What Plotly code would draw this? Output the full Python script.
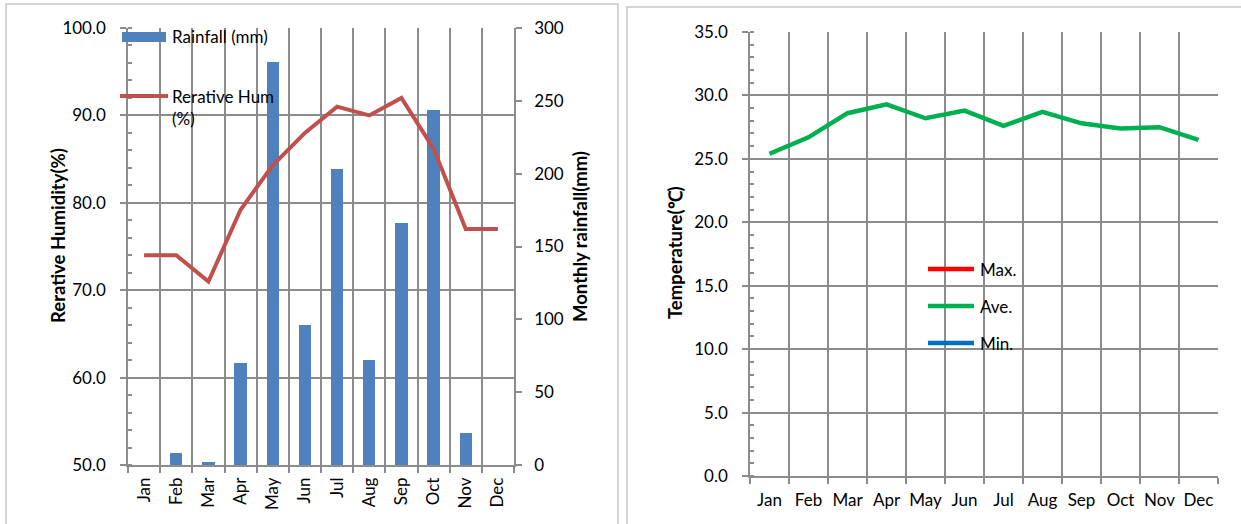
import plotly.graph_objects as go

W, H = 1241, 524

months = ["Jan", "Feb", "Mar", "Apr", "May", "Jun",
          "Jul", "Aug", "Sep", "Oct", "Nov", "Dec"]

# Monthly rainfall (mm) and relative humidity (%)
rainfall_mm = [0, 8, 2, 70, 277, 96, 203, 72, 166, 244, 22, 0]
humidity_pct = [74.0, 74.0, 71.0, 79.2, 84.3, 88.0, 91.0, 90.0, 92.0, 86.2, 77.0, 77.0]

# Monthly average temperature (°C)
temp_ave = [25.4, 26.7, 28.6, 29.3, 28.2, 28.8, 27.6, 28.7, 27.8, 27.4, 27.5, 26.5]

temp_series = ["Max.", "Ave.", "Min."]
temp_colors = ["#FF0000", "#00B050", "#0070C0"]

BAR_BLUE = "#4F81BD"
HUM_RED = "#C0504D"
GRID = "#8C8C8C"
FONT = "Lato"


def px(x):
    return x / W


def py(y):
    return 1 - y / H


fig = go.Figure()

fig.add_trace(go.Bar(
    x=months, y=rainfall_mm, name="Rainfall (mm)",
    marker=dict(color=BAR_BLUE, line=dict(width=0)),
    width=0.38, xaxis="x", yaxis="y", showlegend=False,
))
fig.add_trace(go.Scatter(
    x=months, y=humidity_pct, name="Rerative Hum (%)", mode="lines",
    line=dict(color=HUM_RED, width=4), xaxis="x", yaxis="y2", showlegend=False,
))
fig.add_trace(go.Scatter(
    x=months, y=temp_ave, name="Ave.", mode="lines",
    line=dict(color=temp_colors[1], width=4.5), xaxis="x2", yaxis="y3",
    showlegend=False,
))

tick_font = dict(family=FONT, size=17, color="#000000")
line_common = dict(linecolor=GRID, linewidth=1.5, tickcolor=GRID, tickwidth=1.5,
                   tickfont=tick_font, zeroline=False, fixedrange=True,
                   automargin=False)
grid_common = dict(gridcolor=GRID, gridwidth=1.5)

fig.update_layout(
    width=W, height=H,
    margin=dict(l=0, r=0, t=0, b=0),
    paper_bgcolor="white", plot_bgcolor="white",
    bargap=0,
    xaxis=dict(
        domain=[px(128), px(514)], anchor="y", type="category",
        range=[-0.5, 11.5], tickson="boundaries", ticks="outside", ticklen=6,
        tickangle=-90, showgrid=True, ticklabelstandoff=4,
        **line_common, **grid_common,
    ),
    yaxis=dict(
        domain=[py(465), py(28)], anchor="x", side="right",
        range=[0, 300], dtick=50, ticks="outside", ticklen=6, showgrid=False,
        showline=True, ticklabelstandoff=9, **line_common,
    ),
    yaxis2=dict(
        overlaying="y", anchor="x", side="left",
        range=[50, 100], dtick=10, tickformat=".1f", ticks="outside", ticklen=6,
        showgrid=True, showline=True, ticklabelstandoff=11,
        minor=dict(dtick=2, ticks="inside", ticklen=4, tickcolor=GRID, showgrid=False),
        **line_common, **grid_common,
    ),
    xaxis2=dict(
        domain=[px(750), px(1218)], anchor="y3", type="category",
        range=[-0.5, 11.5], tickson="boundaries", ticks="outside", ticklen=6,
        tickangle=0, showgrid=True, ticklabelstandoff=8,
        **line_common, **grid_common,
    ),
    yaxis3=dict(
        domain=[py(476), py(32)], anchor="x2", side="left",
        range=[0, 35], dtick=5, tickformat=".1f", ticks="outside", ticklen=6,
        showgrid=True, showline=True, ticklabelstandoff=11,
        minor=dict(dtick=1, ticks="inside", ticklen=4, tickcolor=GRID, showgrid=False),
        **line_common, **grid_common,
    ),
)

shapes = []
annotations = []

# Panel frames
for x0, x1, y0 in [(6, 618, 4), (627, 1250, 7)]:
    shapes.append(dict(type="rect", xref="paper", yref="paper",
                       x0=px(x0), x1=px(x1), y0=py(H + 10), y1=py(y0),
                       line=dict(color="#C8C8C8", width=1.5), fillcolor="rgba(0,0,0,0)",
                       layer="below"))

legend_font = dict(family=FONT, size=17, color="#000000")

# Left chart legend
shapes.append(dict(type="rect", xref="paper", yref="paper",
                   x0=px(122), x1=px(166), y0=py(42), y1=py(32),
                   fillcolor=BAR_BLUE, line=dict(width=0)))
annotations.append(dict(xref="paper", yref="paper", x=px(170), y=py(37),
                        text="Rainfall (mm)", showarrow=False, xanchor="left",
                        yanchor="middle", font=legend_font))
shapes.append(dict(type="line", xref="paper", yref="paper",
                   x0=px(120), x1=px(168), y0=py(96), y1=py(96),
                   line=dict(color=HUM_RED, width=4)))
annotations.append(dict(xref="paper", yref="paper", x=px(170), y=py(107),
                        text="Rerative Hum<br>(%)", showarrow=False, xanchor="left",
                        yanchor="middle", align="left", font=legend_font))

# Right chart legend
for i, (name, color) in enumerate(zip(temp_series, temp_colors)):
    yy = 269 + 37 * i
    shapes.append(dict(type="line", xref="paper", yref="paper",
                       x0=px(928), x1=px(974), y0=py(yy), y1=py(yy),
                       line=dict(color=color, width=4.5)))
    annotations.append(dict(xref="paper", yref="paper", x=px(978), y=py(yy),
                            text=name, showarrow=False, xanchor="left",
                            yanchor="middle", font=legend_font))

title_font = dict(family=FONT, size=18.5, color="#000000")
annotations += [
    dict(xref="paper", yref="paper", x=px(45), y=py(236), text="<b>Rerative Humidity(%)</b>",
         textangle=-90, showarrow=False, font=title_font),
    dict(xref="paper", yref="paper", x=px(580), y=py(237), text="<b>Monthly rainfall(mm)</b>",
         textangle=-90, showarrow=False, font=title_font),
    dict(xref="paper", yref="paper", x=px(675), y=py(252), text="<b>Temperature(℃)</b>",
         textangle=-90, showarrow=False, font=title_font),
]

fig.update_layout(shapes=shapes, annotations=annotations)

fig.write_html("out.html")
